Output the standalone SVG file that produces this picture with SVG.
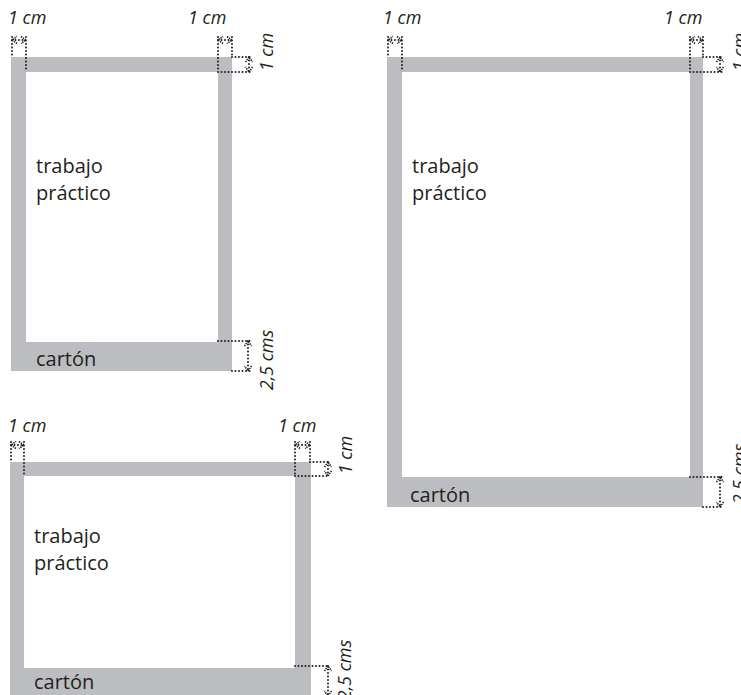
<svg xmlns="http://www.w3.org/2000/svg" width="741" height="695" viewBox="0 0 741 695">
<defs>
<style>
.band{fill:#bcbdc0}
.inner{fill:#ffffff}
.lbl{font-family:"Open Sans","Liberation Sans",sans-serif;font-size:20px;fill:#231f20}
.dimt{font-family:"Open Sans","Liberation Sans",sans-serif;font-size:18px;font-style:italic;fill:#231f20}
.ext{stroke:#231f20;stroke-width:2;stroke-dasharray:0 3.5;stroke-linecap:round;fill:none}
.dim{stroke:#231f20;stroke-width:2;stroke-dasharray:0 3.5;stroke-linecap:round;fill:none;marker-start:url(#ar);marker-end:url(#ar)}
</style>
<marker id="ar" viewBox="-7 -5 8 10" markerWidth="8" markerHeight="10" refX="0" refY="0" orient="auto-start-reverse" markerUnits="userSpaceOnUse">
<path d="M-5,-3.5 L0,0 L-5,3.5" fill="none" stroke="#231f20" stroke-width="1.6" stroke-dasharray="1.4 0.9"/>
</marker>
</defs>

<g id="frame1">
<rect class="band" x="11" y="57" width="221" height="314"/>
<rect class="inner" x="26" y="72" width="192" height="270"/>
<text class="lbl" x="36" y="173">trabajo</text>
<text class="lbl" x="36" y="200">práctico</text>
<text class="lbl" x="36" y="366">cartón</text>
</g>

<g id="frame2">
<rect class="band" x="387" y="57" width="316" height="450"/>
<rect class="inner" x="402" y="72" width="288" height="405"/>
<text class="lbl" x="412" y="173">trabajo</text>
<text class="lbl" x="412" y="200">práctico</text>
<text class="lbl" x="410" y="502">cartón</text>
</g>

<g id="frame3">
<rect class="band" x="10" y="462" width="301" height="240"/>
<rect class="inner" x="24" y="476" width="271" height="192"/>
<text class="lbl" x="34" y="543">trabajo</text>
<text class="lbl" x="34" y="570">práctico</text>
<text class="lbl" x="34" y="689">cartón</text>
</g>

<g id="dimensions">
<!-- frame 1 -->
<text class="dimt" x="8" y="24">1 cm</text>
<text class="dimt" x="188" y="24">1 cm</text>
<text class="dimt" transform="translate(273,52) rotate(-90)" text-anchor="middle">1 cm</text>
<text class="dimt" transform="translate(273,360) rotate(-90)" text-anchor="middle">2,5 cms</text>
<path class="ext" d="M12,37 V57 M26,37 V72 M218,37 V72 M232,37 V57 M232,57 H250 M218,72 H250 M218,341 H250 M232,371 H250"/>
<line class="dim" x1="12" y1="40" x2="26" y2="40"/>
<line class="dim" x1="218" y1="40" x2="232" y2="40"/>
<line class="dim" x1="249" y1="57" x2="249" y2="72"/>
<line class="dim" x1="248" y1="341" x2="248" y2="371"/>

<!-- frame 2 -->
<text class="dimt" x="383" y="24">1 cm</text>
<text class="dimt" x="664" y="24">1 cm</text>
<text class="dimt" transform="translate(746,52) rotate(-90)" text-anchor="middle">1 cm</text>
<text class="dimt" transform="translate(746,474) rotate(-90)" text-anchor="middle">2,5 cms</text>
<path class="ext" d="M388,37 V57 M402,37 V72 M690,37 V72 M703,37 V57 M703,57 H722 M690,72 H722 M690,477 H722 M703,507 H722"/>
<line class="dim" x1="388" y1="40" x2="402" y2="40"/>
<line class="dim" x1="690" y1="40" x2="703" y2="40"/>
<line class="dim" x1="720" y1="57" x2="720" y2="72"/>
<line class="dim" x1="720" y1="477" x2="720" y2="507"/>

<!-- frame 3 -->
<text class="dimt" x="8" y="432">1 cm</text>
<text class="dimt" x="278" y="432">1 cm</text>
<text class="dimt" transform="translate(352,455) rotate(-90)" text-anchor="middle">1 cm</text>
<text class="dimt" transform="translate(351,670) rotate(-90)" text-anchor="middle">2,5 cms</text>
<path class="ext" d="M11,442 V462 M24,442 V476 M295,442 V476 M310,442 V462 M310,462 H330 M295,476 H330 M295,666 H330 M311,696 H330"/>
<line class="dim" x1="11" y1="445" x2="24" y2="445"/>
<line class="dim" x1="295" y1="445" x2="310" y2="445"/>
<line class="dim" x1="328" y1="462" x2="328" y2="476"/>
<line class="dim" x1="328" y1="666" x2="328" y2="696"/>
</g>
</svg>
